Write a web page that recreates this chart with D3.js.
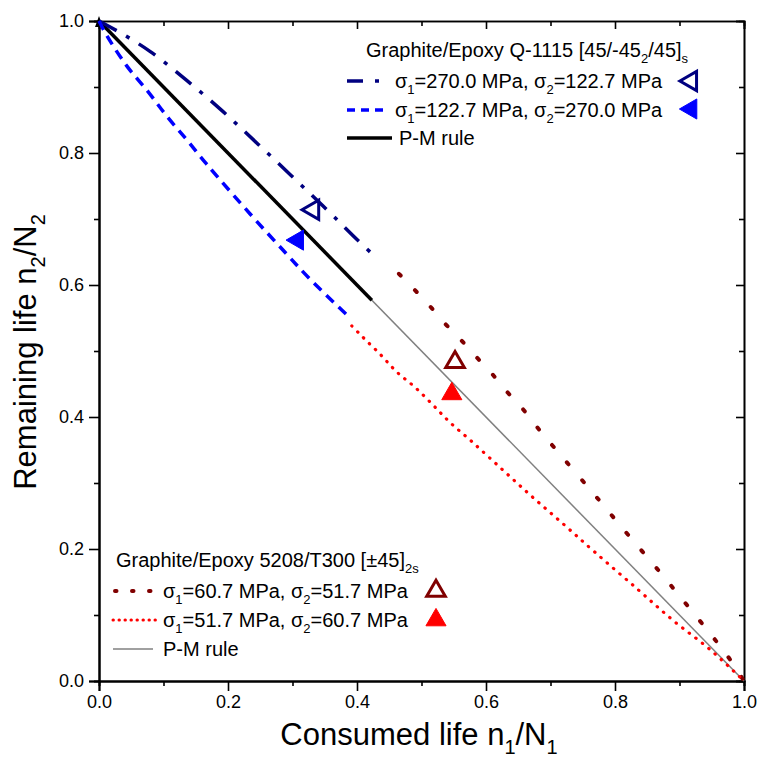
<!DOCTYPE html>
<html>
<head>
<meta charset="utf-8">
<script src="https://cdn.jsdelivr.net/npm/d3@7/dist/d3.min.js"></script>
<style>
  html, body { margin: 0; padding: 0; background: #fff; }
  svg { display: block; font-family: "Liberation Sans", Arial, sans-serif; }
</style>
</head>
<body>
<svg id="chart" width="761" height="760"></svg>
<script>
// Q-1115 [45/-45_2/45]s, sigma1 = 270.0 MPa, sigma2 = 122.7 MPa
const q1Consumed  = [0, 0.037, 0.079, 0.136, 0.192, 0.247, 0.347, 0.400, 0.428];
const q1Remaining = [1, 0.980, 0.954, 0.910, 0.863, 0.813, 0.720, 0.669, 0.643];
// Q-1115, sigma1 = 122.7 MPa, sigma2 = 270.0 MPa
const q2Consumed  = [0, 0.012, 0.043, 0.076, 0.105, 0.136, 0.167, 0.234, 0.288, 0.327, 0.384];
const q2Remaining = [1, 0.978, 0.932, 0.893, 0.856, 0.820, 0.783, 0.708, 0.650, 0.609, 0.555];
// 5208/T300 [±45]2s, sigma1 = 60.7 MPa, sigma2 = 51.7 MPa
const t1Consumed  = [0.465, 0.488, 0.513, 0.536, 0.560, 0.584, 0.608, 0.629, 0.653, 0.674, 0.696, 0.784, 0.806, 0.873, 0.915, 0.958, 0.978, 1];
const t1Remaining = [0.617, 0.594, 0.568, 0.542, 0.518, 0.492, 0.467, 0.442, 0.417, 0.391, 0.365, 0.264, 0.238, 0.161, 0.111, 0.059, 0.033, 0];
// 5208/T300, sigma1 = 51.7 MPa, sigma2 = 60.7 MPa
const t2Consumed  = [0.392, 0.409, 0.436, 0.462, 0.490, 0.518, 0.544, 0.580, 0.628, 0.674, 0.722, 0.769, 0.835, 0.891, 0.947, 1];
const t2Remaining = [0.538, 0.521, 0.495, 0.468, 0.445, 0.418, 0.392, 0.361, 0.318, 0.277, 0.236, 0.195, 0.139, 0.091, 0.048, 0];
// Palmgren-Miner linear rule
const pmConsumed  = [0, 1];
const pmRemaining = [1, 0];
const pmQ1115Consumed  = [0, 0.423];
const pmQ1115Remaining = [1, 0.577];
// experimental points
const expConsumed  = [0.332, 0.308, 0.552, 0.547];
const expRemaining = [0.714, 0.668, 0.483, 0.435];

const majorTicks = [0, 0.2, 0.4, 0.6, 0.8, 1.0];
const minorTicks = [0.1, 0.3, 0.5, 0.7, 0.9];

const svg = d3.select("#chart");
const margin = { left: 99, right: 17, top: 21, bottom: 79 };
const W = 761, H = 760;
const x = d3.scaleLinear().domain([0, 1]).range([margin.left, W - margin.right]);
const y = d3.scaleLinear().domain([0, 1]).range([H - margin.bottom, margin.top]);

const fmt = d3.format(".1f");
const tickFont = "18px";
const legendFont = "20px";

// ---- axes ----
function styleAxis(g, width) {
  g.select(".domain").attr("stroke", "#000").attr("stroke-width", width);
  g.selectAll(".tick line").attr("stroke", "#000").attr("stroke-width", 1.6);
  g.selectAll(".tick text").attr("fill", "#000").style("font-size", tickFont)
    .style("font-family", '"Liberation Sans", Arial, sans-serif');
}
// minor ticks first
svg.append("g").attr("transform", `translate(0,${y(0)})`)
  .call(d3.axisBottom(x).tickValues(minorTicks).tickSize(5).tickFormat(""))
  .call(g => styleAxis(g, 2));
svg.append("g").attr("transform", `translate(${x(0)},0)`)
  .call(d3.axisLeft(y).tickValues(minorTicks).tickSize(5).tickFormat(""))
  .call(g => styleAxis(g, 2));
svg.append("g").attr("transform", `translate(0,${y(1)})`)
  .call(d3.axisTop(x).tickValues(minorTicks).tickSize(-5).tickFormat(""))
  .call(g => styleAxis(g, 1.6));
svg.append("g").attr("transform", `translate(${x(1)},0)`)
  .call(d3.axisRight(y).tickValues(minorTicks).tickSize(-5).tickFormat(""))
  .call(g => styleAxis(g, 1.6));
// major ticks
svg.append("g").attr("transform", `translate(0,${y(0)})`)
  .call(d3.axisBottom(x).tickValues(majorTicks).tickSize(10).tickPadding(4).tickFormat(fmt))
  .call(g => styleAxis(g, 2));
svg.append("g").attr("transform", `translate(${x(0)},0)`)
  .call(d3.axisLeft(y).tickValues(majorTicks).tickSize(10).tickPadding(5).tickFormat(fmt))
  .call(g => styleAxis(g, 2));
svg.append("g").attr("transform", `translate(0,${y(1)})`)
  .call(d3.axisTop(x).tickValues(majorTicks).tickSize(-8).tickFormat(""))
  .call(g => styleAxis(g, 1.6));
svg.append("g").attr("transform", `translate(${x(1)},0)`)
  .call(d3.axisRight(y).tickValues(majorTicks).tickSize(-8).tickFormat(""))
  .call(g => styleAxis(g, 1.6));

// small arrowhead at the top of the ordinate
svg.append("path")
  .attr("d", `M${x(0) - 4},${y(1) + 6} L${x(0)},${y(1) - 5} L${x(0) + 4},${y(1) + 6} Z`)
  .attr("fill", "#000");

// ---- axis titles ----
const xt = svg.append("text")
  .attr("x", 419).attr("y", 745)
  .attr("text-anchor", "middle")
  .style("font-size", "31px").attr("fill", "#000");
xt.append("tspan").text("Consumed life n");
xt.append("tspan").attr("dy", 9).style("font-size", "20px").text("1");
xt.append("tspan").attr("dy", -9).text("/N");
xt.append("tspan").attr("dy", 9).style("font-size", "20px").text("1");

const yt = svg.append("text")
  .attr("transform", "translate(36,352) rotate(-90)")
  .attr("text-anchor", "middle")
  .style("font-size", "31px").attr("fill", "#000");
yt.append("tspan").text("Remaining life n");
yt.append("tspan").attr("dy", 9).style("font-size", "20px").text("2");
yt.append("tspan").attr("dy", -9).text("/N");
yt.append("tspan").attr("dy", 9).style("font-size", "20px").text("2");

// ---- curves ----
const line = d3.line().x(d => x(d[0])).y(d => y(d[1])).curve(d3.curveCatmullRom.alpha(0.5));
const zip = (a, b) => a.map((v, i) => [v, b[i]]);

const plot = svg.append("g");
plot.append("path").datum(zip(pmConsumed, pmRemaining)).attr("d", line)
  .attr("fill", "none").attr("stroke", "#808080").attr("stroke-width", 1.5);
plot.append("path").datum(zip(pmQ1115Consumed, pmQ1115Remaining)).attr("d", line)
  .attr("fill", "none").attr("stroke", "#000").attr("stroke-width", 3.5);
plot.append("path").datum(zip(q1Consumed, q1Remaining)).attr("d", line)
  .attr("fill", "none").attr("stroke", "#000080").attr("stroke-width", 3.5)
  .attr("stroke-dasharray", "20,11,4,11");
plot.append("path").datum(zip(q2Consumed, q2Remaining)).attr("d", line)
  .attr("fill", "none").attr("stroke", "#0000ff").attr("stroke-width", 3.5)
  .attr("stroke-dasharray", "10,7");
plot.append("path").datum(zip(t1Consumed, t1Remaining)).attr("d", line)
  .attr("fill", "none").attr("stroke", "#800000").attr("stroke-width", 4)
  .attr("stroke-linecap", "round").attr("stroke-dasharray", "2.5,20.5");
plot.append("path").datum(zip(t2Consumed, t2Remaining)).attr("d", line)
  .attr("fill", "none").attr("stroke", "#ff0000").attr("stroke-width", 3.2)
  .attr("stroke-linecap", "round").attr("stroke-dasharray", "0.4,7.9");

// ---- markers ----
const tri = d3.symbol().type(d3.symbolTriangle);
const markerStyles = [
  { rot: -90, fill: "none",    stroke: "#000080", size: 160 },
  { rot: -90, fill: "#0000ff", stroke: "#0000ff", size: 175 },
  { rot: 0,   fill: "none",    stroke: "#800000", size: 150 },
  { rot: 0,   fill: "#ff0000", stroke: "#ff0000", size: 175 }
];
function drawMarker(g, cx, cy, s) {
  g.append("path")
    .attr("d", tri.size(s.size)())
    .attr("transform", `translate(${cx},${cy}) rotate(${s.rot})`)
    .attr("fill", s.fill).attr("stroke", s.stroke)
    .attr("stroke-width", s.fill === "none" ? 3 : 1)
    .attr("stroke-linejoin", "miter");
}
expConsumed.forEach((v, i) => drawMarker(plot, x(v), y(expRemaining[i]), markerStyles[i]));

// ---- legends ----
function subText(sel, parts) {
  parts.forEach(p => {
    if (p.sub) {
      sel.append("tspan").attr("dy", p.dy).style("font-size", p.size || "13px").text(p.t);
    } else {
      sel.append("tspan").attr("dy", p.dy || 0).text(p.t);
    }
  });
}
function sigmaLabel(g, tx, ty, s1, s2) {
  const t = g.append("text").attr("x", tx).attr("y", ty).style("font-size", legendFont).attr("fill", "#000");
  subText(t, [
    { t: "σ" }, { t: "1", sub: true, dy: 6 },
    { t: `=${s1} MPa, σ`, dy: -6 }, { t: "2", sub: true, dy: 6 },
    { t: `=${s2} MPa`, dy: -6 }
  ]);
}

const legTop = svg.append("g");
{
  const t = legTop.append("text").attr("x", 366).attr("y", 57).style("font-size", legendFont).attr("fill", "#000");
  subText(t, [
    { t: "Graphite/Epoxy Q-1115 [45/-45" }, { t: "2", sub: true, dy: 6 },
    { t: "/45]", dy: -6 }, { t: "s", sub: true, dy: 6 }
  ]);
  legTop.append("line").attr("x1", 347).attr("x2", 382).attr("y1", 81).attr("y2", 81)
    .attr("stroke", "#000080").attr("stroke-width", 3.5).attr("stroke-dasharray", "16,12,4,12");
  sigmaLabel(legTop, 395, 88, "270.0", "122.7");
  drawMarker(legTop, 691, 81, markerStyles[0]);
  legTop.append("line").attr("x1", 347).attr("x2", 385).attr("y1", 110).attr("y2", 110)
    .attr("stroke", "#0000ff").attr("stroke-width", 3.5).attr("stroke-dasharray", "8,6");
  sigmaLabel(legTop, 395, 117, "122.7", "270.0");
  drawMarker(legTop, 691, 109, markerStyles[1]);
  legTop.append("line").attr("x1", 347).attr("x2", 392).attr("y1", 138).attr("y2", 138)
    .attr("stroke", "#000").attr("stroke-width", 3.5);
  legTop.append("text").attr("x", 399).attr("y", 145).style("font-size", legendFont).text("P-M rule");
}

const legBot = svg.append("g");
{
  const t = legBot.append("text").attr("x", 116).attr("y", 567).style("font-size", legendFont).attr("fill", "#000");
  subText(t, [
    { t: "Graphite/Epoxy 5208/T300 [±45]" }, { t: "2s", sub: true, dy: 6 }
  ]);
  legBot.append("line").attr("x1", 115).attr("x2", 158).attr("y1", 591).attr("y2", 591)
    .attr("stroke", "#800000").attr("stroke-width", 4).attr("stroke-linecap", "round")
    .attr("stroke-dasharray", "1.5,15.5");
  sigmaLabel(legBot, 163, 598, "60.7", "51.7");
  drawMarker(legBot, 436, 591, markerStyles[2]);
  legBot.append("line").attr("x1", 113).attr("x2", 158).attr("y1", 620).attr("y2", 620)
    .attr("stroke", "#ff0000").attr("stroke-width", 3).attr("stroke-linecap", "round")
    .attr("stroke-dasharray", "0.4,5.6");
  sigmaLabel(legBot, 163, 627, "51.7", "60.7");
  drawMarker(legBot, 436, 620, markerStyles[3]);
  legBot.append("line").attr("x1", 113).attr("x2", 153).attr("y1", 649).attr("y2", 649)
    .attr("stroke", "#808080").attr("stroke-width", 1.5);
  legBot.append("text").attr("x", 163).attr("y", 656).style("font-size", legendFont).text("P-M rule");
}
</script>
</body>
</html>
